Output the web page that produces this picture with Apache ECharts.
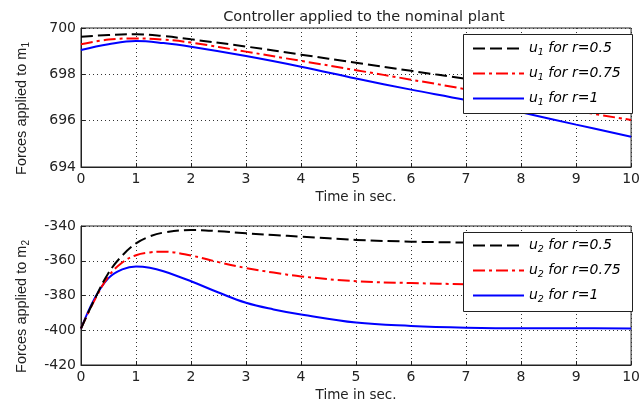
<!DOCTYPE html>
<html><head><meta charset="utf-8">
<script src="https://cdn.jsdelivr.net/npm/echarts@6/dist/echarts.min.js"></script>
<style>html,body{margin:0;padding:0;background:#fff}#c{width:643px;height:403px}</style>
</head><body><div id="c"></div>
<script>
// ---- data ----
const tTop = [0,0.5,1,1.5,2,3,4,5,6,7,8,9,10];
const u1r05  = [699.62,699.70,699.73,699.65,699.51,699.20,698.85,698.50,698.15,697.80,697.42,697.05,696.65];
const u1r075 = [699.30,699.50,699.55,699.50,699.37,698.98,698.58,698.18,697.77,697.35,696.85,696.42,696.03];
const u1r1   = [699.05,699.30,699.44,699.35,699.19,698.79,698.33,697.82,697.34,696.89,696.36,695.83,695.31];

const tBot = [0,0.25,0.5,0.75,1,1.25,1.5,2,2.5,3,3.5,4,5,6,7,8,9,10];
const u2r05  = [-399,-382,-367,-357,-350,-346,-343.8,-342.3,-343,-344.2,-345.2,-346.1,-348,-349,-349.5,-349.6,-349.6,-349.5];
const u2r075 = [-399,-382.5,-369,-361,-356.8,-355.2,-354.8,-357,-360.8,-364.2,-366.8,-369,-371.8,-372.8,-373.5,-373.7,-373.7,-373.7];
const u2r1   = [-399,-381.5,-370,-365,-363.3,-364,-366,-371.8,-378.3,-384.2,-388,-390.9,-395.6,-397.5,-398.5,-398.9,-398.9,-399];

const xTicks = [0,1,2,3,4,5,6,7,8,9,10];
const topTicks = [694,696,698,700];
const botTicks = [-420,-400,-380,-360,-340];
const titleText = 'Controller applied to the nominal plant';
const xName = 'Time in sec.';

// ---- chart ----
const FONT = 'DejaVu Sans, Liberation Sans, sans-serif';
const YFONT = 'Liberation Sans, Arial, sans-serif';
const chart = echarts.init(document.getElementById('c'), null, {renderer:'canvas'});
const zip = (t, v) => t.map((x, i) => [x, v[i]]);

function xAxis(gi){
  return {gridIndex: gi, type:'value', min:xTicks[0], max:xTicks[xTicks.length-1], interval:1,
    name: xName, nameLocation:'middle', nameGap: 23,
    nameTextStyle:{color:'#222', fontSize:13.5, fontFamily:FONT},
    axisLine:{show:true, lineStyle:{color:'#222', width:1}},
    axisTick:{show:true, inside:true, length:4, lineStyle:{color:'#222'}},
    axisLabel:{color:'#222', fontSize:14, fontFamily:FONT, margin:5},
    splitLine:{show:true, lineStyle:{color:'#333', type:[1,3], width:1}}};
}
function yAxis(gi, ticks, interval, sub){
  return {gridIndex: gi, type:'value', min:ticks[0], max:ticks[ticks.length-1], interval,
    name: '{a|Forces applied to m}{s|' + sub + '}', nameLocation:'middle', nameGap: 50,
    nameTextStyle:{padding:[0,22,0,0], rich:{a:{color:'#222', fontSize:14.5, fontFamily:YFONT},
                         s:{color:'#222', fontSize:10, fontFamily:YFONT, verticalAlign:'bottom', padding:[9,0,0,0]}}},
    axisLine:{show:true, lineStyle:{color:'#222', width:1}},
    axisTick:{show:true, inside:true, length:4, lineStyle:{color:'#222'}},
    axisLabel:{color:'#222', fontSize:14, fontFamily:FONT, margin:5},
    splitLine:{show:true, lineStyle:{color:'#333', type:[1,3], width:1}}};
}
const styles = [
  {color:'#000000', type:[12,5]},
  {color:'#ff0000', type:[12,4,3,4]},
  {color:'#0000ff', type:'solid'}
];
function mkSeries(name, gi, t, v, k){
  return {name, type:'line', xAxisIndex:gi, yAxisIndex:gi, data: zip(t, v), smooth:0.4,
    symbol:'none', lineStyle:{color:styles[k].color, type:styles[k].type, width:2},
    itemStyle:{color:styles[k].color}, z: 5 - k};
}
const names1 = ['u1 for r=0.5','u1 for r=0.75','u1 for r=1'];
const names2 = ['u2 for r=0.5','u2 for r=0.75','u2 for r=1'];
function legendFmt(name){
  const sub = name.charAt(1);
  return '{i|u}{s|' + sub + '}{i|' + name.slice(2) + '}';
}
function legend(names, top){
  return {data: names, orient:'vertical', left: 467, top: top, itemWidth: 51, itemHeight: 10,
    itemGap: 6, z: 20,
    itemStyle:{opacity:0},
    lineStyle:{width:2},
    formatter: legendFmt,
    textStyle:{rich:{
      i:{fontStyle:'italic', fontSize:14, color:'#000', fontFamily:FONT, lineHeight:19},
      s:{fontStyle:'italic', fontSize:9.5, color:'#000', fontFamily:FONT, verticalAlign:'bottom', padding:[9,0,0,0], lineHeight:19}}}};
}

chart.setOption({
  animation:false,
  backgroundColor:'#fff',
  title:{text:titleText, left:359, top:5, textAlign:'center',
    textStyle:{fontSize:14.5, fontWeight:'normal', color:'#222', fontFamily:FONT}},
  grid:[
    {left:81, right:6, top:28, height:139, show:true, borderColor:'#222', borderWidth:1, backgroundColor:'transparent'},
    {left:81, right:6, top:226, height:140, show:true, borderColor:'#222', borderWidth:1, backgroundColor:'transparent'}
  ],
  xAxis:[xAxis(0), xAxis(1)],
  yAxis:[yAxis(0, topTicks, 2, '1'), yAxis(1, botTicks, 20, '2')],
  legend:[legend(names1, 34), legend(names2, 231)],
  graphic:[
    {type:'rect', shape:{x:463.5, y:34.5, width:169, height:79}, style:{fill:'#fff', stroke:'#222', lineWidth:1}, z:10},
    {type:'rect', shape:{x:463.5, y:232.5, width:169, height:79}, style:{fill:'#fff', stroke:'#222', lineWidth:1}, z:10}
  ],
  series:[
    mkSeries(names1[0],0,tTop,u1r05,0), mkSeries(names1[1],0,tTop,u1r075,1), mkSeries(names1[2],0,tTop,u1r1,2),
    mkSeries(names2[0],1,tBot,u2r05,0), mkSeries(names2[1],1,tBot,u2r075,1), mkSeries(names2[2],1,tBot,u2r1,2)
  ]
});
</script></body></html>
